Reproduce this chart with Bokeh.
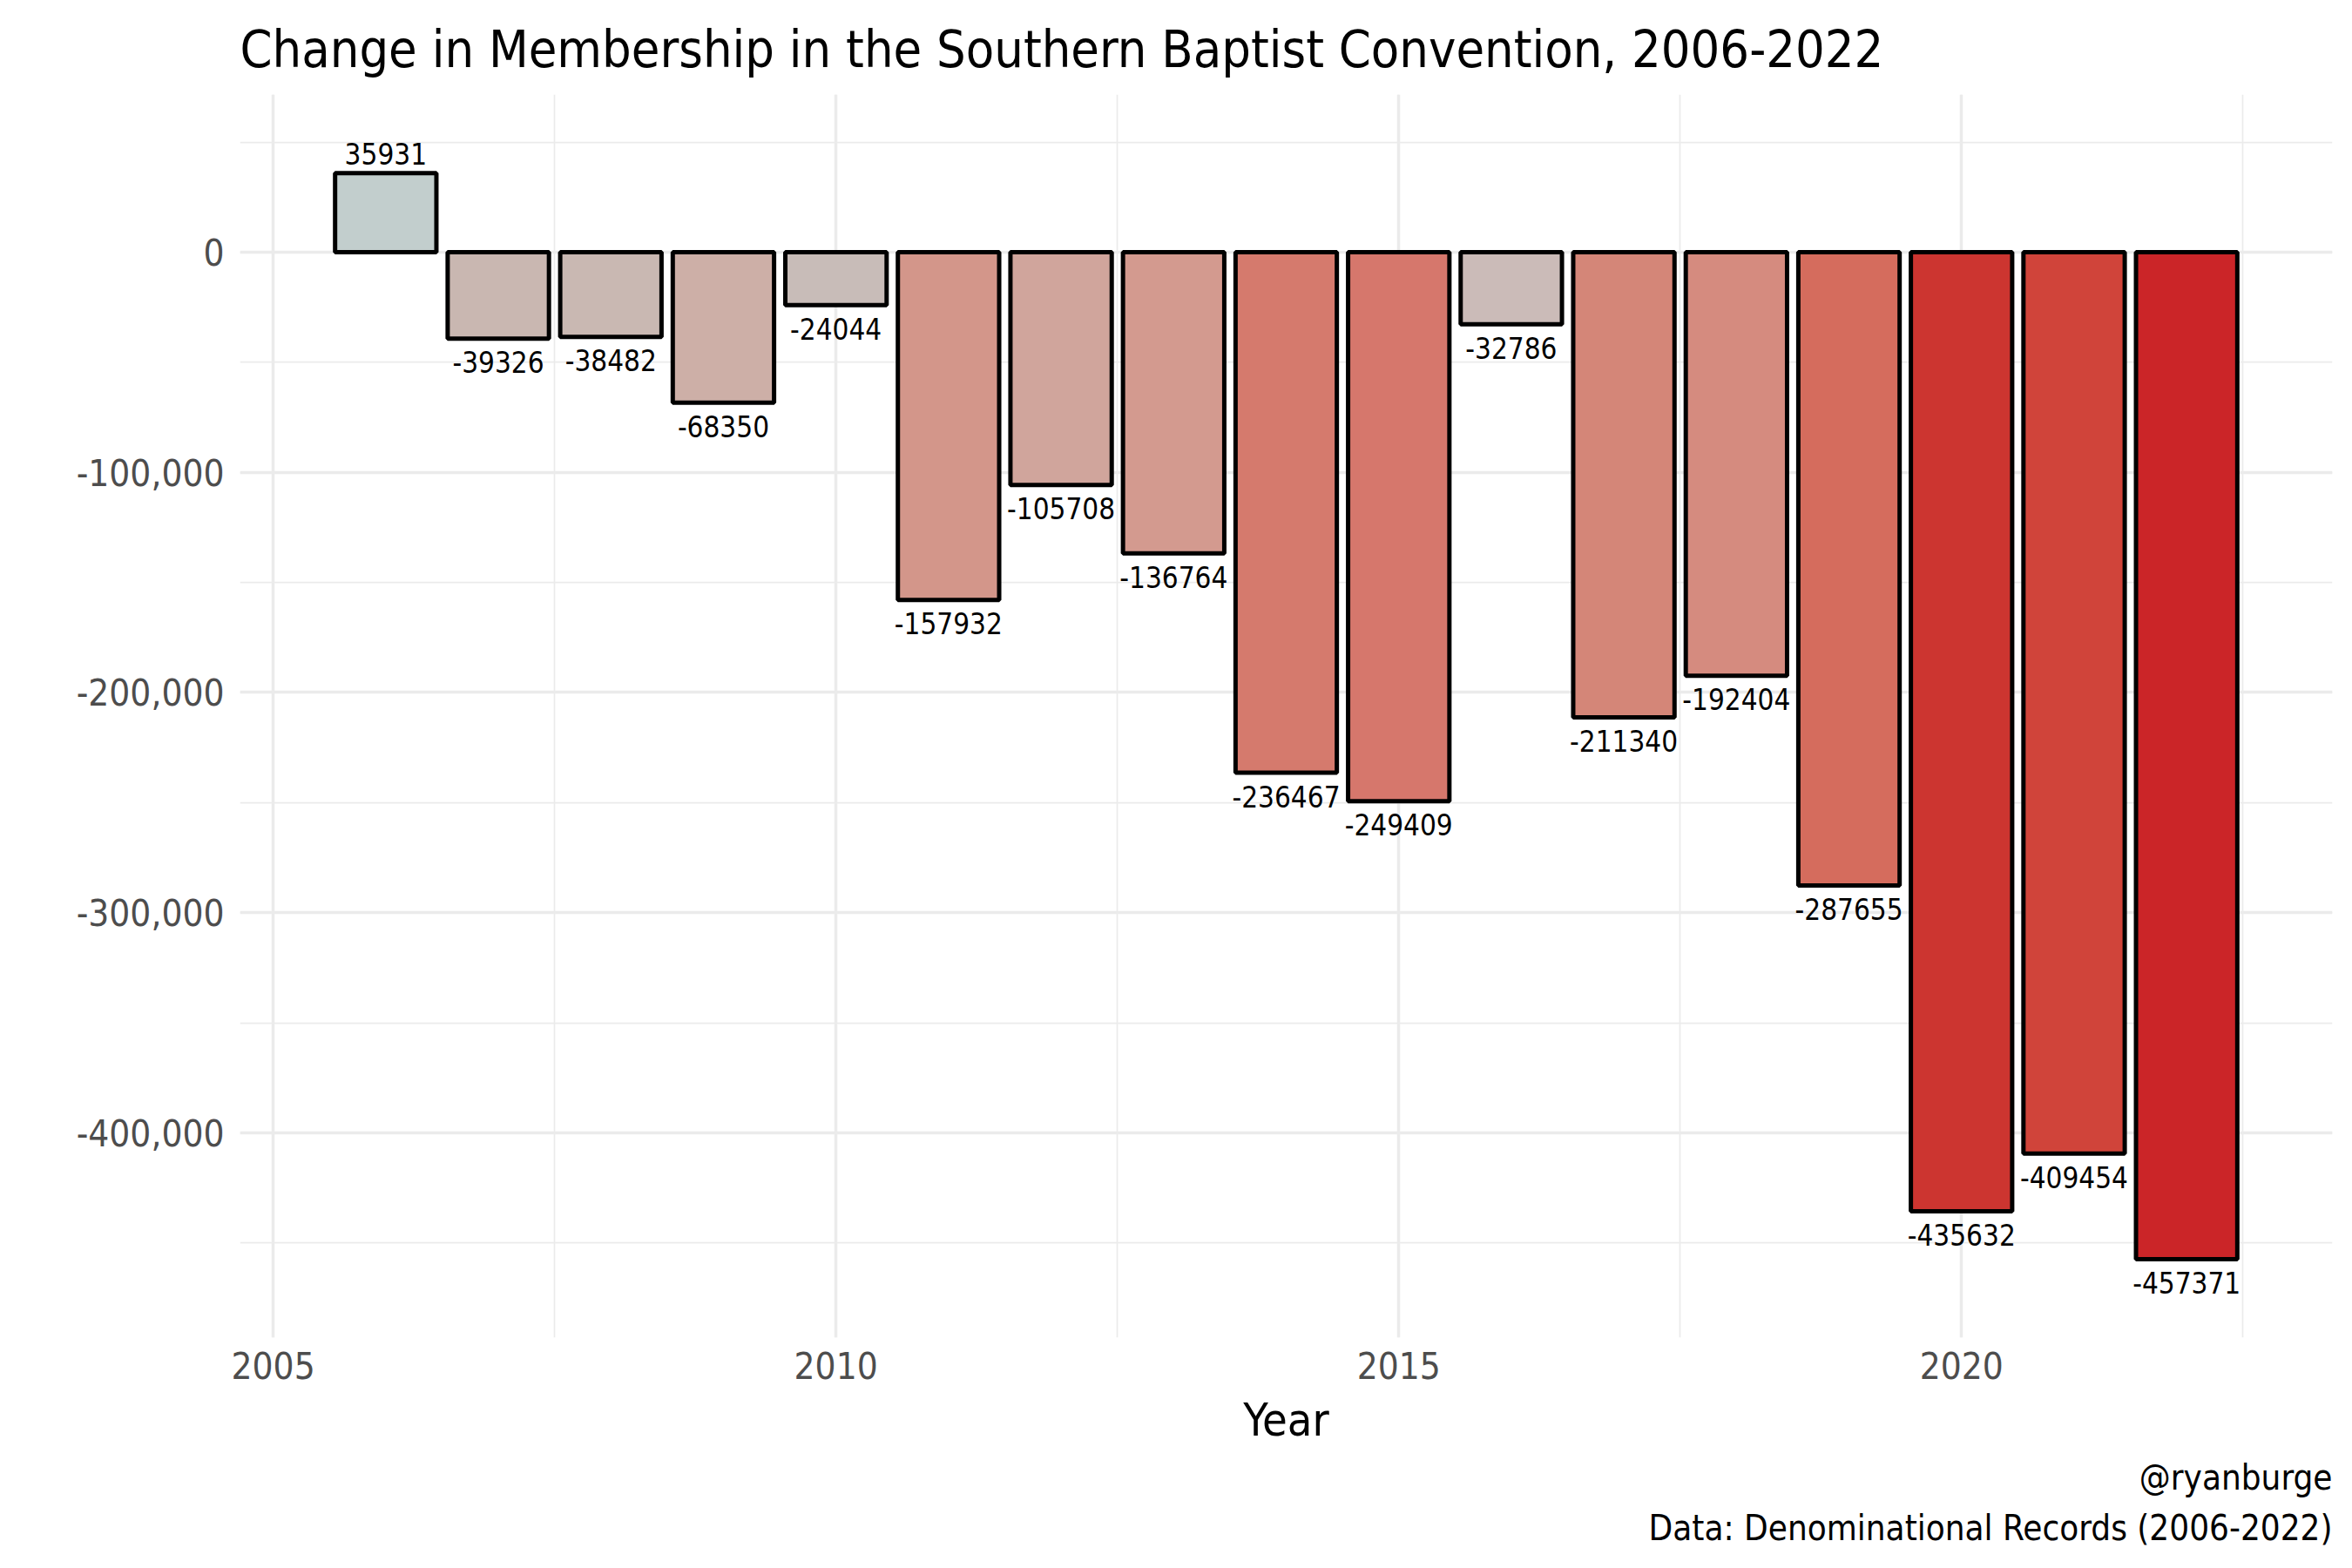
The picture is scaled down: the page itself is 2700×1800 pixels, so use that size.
from bokeh.plotting import figure
from bokeh.models import (SingleIntervalTicker, NumeralTickFormatter, Range1d,
                          ColumnDataSource, Title)
from bokeh.embed import file_html
from bokeh.resources import INLINE
from bokeh.core.properties import value

# ---------------- data ----------------
years = [2006, 2007, 2008, 2009, 2010, 2011, 2012, 2013, 2014, 2015,
         2016, 2017, 2018, 2019, 2020, 2021, 2022]
changes = [35931, -39326, -38482, -68350, -24044, -157932, -105708, -136764,
           -236467, -249409, -32786, -211340, -192404, -287655, -435632,
           -409454, -457371]
bar_colors = ["#c2cecd", "#c9b7b1", "#c9b8b2", "#cdafa7", "#c8bcb8", "#d3968a",
              "#d0a59c", "#d39a8f", "#d57a6d", "#d6776c", "#cbbbb8", "#d48678",
              "#d58b7f", "#d56c5d", "#cc3530", "#d0443a", "#cb2528"]
x_ticks = [2005, 2010, 2015, 2020]
y_ticks = [0, -100000, -200000, -300000, -400000]

TITLE = "Change in Membership in the Southern Baptist Convention, 2006-2022"
X_LABEL = "Year"
CAPTION_1 = "@ryanburge"
CAPTION_2 = "Data: Denominational Records (2006-2022)"

FONT = "'DejaVu Sans Condensed', 'Liberation Sans Narrow', sans-serif"
LABEL_FONT = "'DejaVu Sans Condensed', sans-serif"

src = ColumnDataSource(dict(year=years, change=changes, color=bar_colors))
pos = ColumnDataSource(dict(year=[y for y, v in zip(years, changes) if v >= 0],
                            change=[v for v in changes if v >= 0],
                            label=[str(v) for v in changes if v >= 0]))
neg = ColumnDataSource(dict(year=[y for y, v in zip(years, changes) if v < 0],
                            change=[v for v in changes if v < 0],
                            label=[str(v) for v in changes if v < 0]))

p = figure(width=2684, height=1784,
           x_range=Range1d(2004.705, 2023.295),
           y_range=Range1d(-493000, 71600),
           output_backend="svg", toolbar_location=None,
           min_border_left=275, min_border_right=7,
           min_border_top=108, min_border_bottom=249)

p.background_fill_color = "white"
p.border_fill_color = "white"
p.outline_line_color = None

# title
p.title.text = TITLE
p.title.text_font = FONT
p.title.text_font_size = "59px"
p.title.text_font_style = "normal"
p.title.text_color = "black"
p.title.align = "left"
p.title.standoff = 36

# tickers / grids
xt = SingleIntervalTicker(interval=5, num_minor_ticks=2)
yt = SingleIntervalTicker(interval=100000, num_minor_ticks=2)
p.xaxis.ticker = xt
p.yaxis.ticker = yt
p.xgrid.ticker = xt
p.ygrid.ticker = yt
for g in (p.xgrid, p.ygrid):
    g.grid_line_color = "#ebebeb"
    g.grid_line_width = 3.5
    g.minor_grid_line_color = "#ebebeb"
    g.minor_grid_line_width = 1.75

p.yaxis.formatter = NumeralTickFormatter(format="0,0")

for ax in (p.xaxis, p.yaxis):
    ax.axis_line_color = None
    ax.major_tick_line_color = None
    ax.minor_tick_line_color = None
    ax.major_tick_out = 0
    ax.major_tick_in = 0
    ax.minor_tick_out = 0
    ax.minor_tick_in = 0
    ax.major_label_text_font = FONT
    ax.major_label_text_font_size = "42px"
    ax.major_label_text_color = "#4d4d4d"

p.xaxis.major_label_standoff = 16
p.yaxis.major_label_standoff = 18
p.xaxis.axis_label = X_LABEL
p.xaxis.axis_label_text_font = FONT
p.xaxis.axis_label_text_font_size = "52px"
p.xaxis.axis_label_text_font_style = "normal"
p.xaxis.axis_label_text_color = "black"
p.xaxis.axis_label_standoff = 14

# bars
p.vbar(x="year", top="change", bottom=0, width=0.9, source=src,
       fill_color="color", line_color="black", line_width=5)

# value labels
p.text(x="year", y="change", text="label", source=pos,
       text_font=value(LABEL_FONT), text_font_size="33px",
       text_align="center", text_baseline="alphabetic", y_offset=-22,
       text_color="black")
p.text(x="year", y="change", text="label", source=neg,
       text_font=value(LABEL_FONT), text_font_size="33px",
       text_align="center", text_baseline="alphabetic", y_offset=27,
       text_color="black")

# caption
for txt, so in ((CAPTION_1, 16), (CAPTION_2, 4)):
    t = Title(text=txt, align="right", text_font=FONT,
              text_font_size="40px", text_font_style="normal",
              text_color="black", standoff=so)
    p.add_layout(t, "below")

open("out.html", "w").write(file_html(p, INLINE))
